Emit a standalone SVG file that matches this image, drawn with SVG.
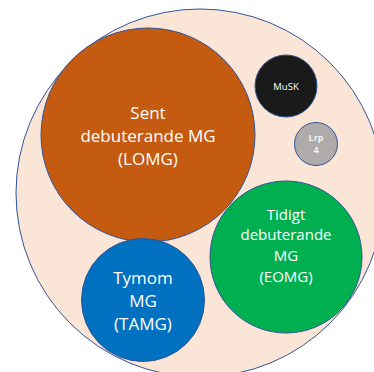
<svg xmlns="http://www.w3.org/2000/svg" width="374" height="372" viewBox="0 0 374 372">
<style>
circle{stroke:#2F5597;stroke-width:1}
text{font-family:"Open Sans","Liberation Sans",sans-serif;fill:#fff;text-anchor:middle}
.l{font-size:17px}
.m{font-size:15px}
.s{font-size:9.5px}
.t{font-size:9px;font-weight:bold;fill:#f2f2f2}
</style>
<rect width="374" height="372" fill="#fff"/>
<g id="outer"><circle cx="200" cy="193" r="184" fill="#FBE5D6"/></g>
<g id="lomg"><circle cx="148" cy="135" r="107" fill="#C55A11"/>
<text class="l" x="148" y="119">Sent</text><text class="l" x="148" y="142">debuterande MG</text><text class="l" x="148" y="165">(LOMG)</text></g>
<g id="musk"><circle cx="286" cy="86" r="31" fill="#1A1A1A"/><text class="s" x="286" y="90">MuSK</text></g>
<g id="lrp4"><circle cx="316" cy="144" r="21.5" fill="#AFABAB"/><text class="t" x="316" y="141">Lrp</text><text class="t" x="316" y="153">4</text></g>
<g id="eomg"><circle cx="286" cy="257" r="76" fill="#00B050"/>
<text class="m" x="286" y="220">Tidigt</text><text class="m" x="286" y="240">debuterande</text><text class="m" x="286" y="261">MG</text><text class="m" x="286" y="282">(EOMG)</text></g>
<g id="tamg"><circle cx="143" cy="300" r="61.5" fill="#0070C0"/>
<text class="l" x="143" y="284">Tymom</text><text class="l" x="143" y="307">MG</text><text class="l" x="143" y="330">(TAMG)</text></g>
<g id="connectors"/>
</svg>
